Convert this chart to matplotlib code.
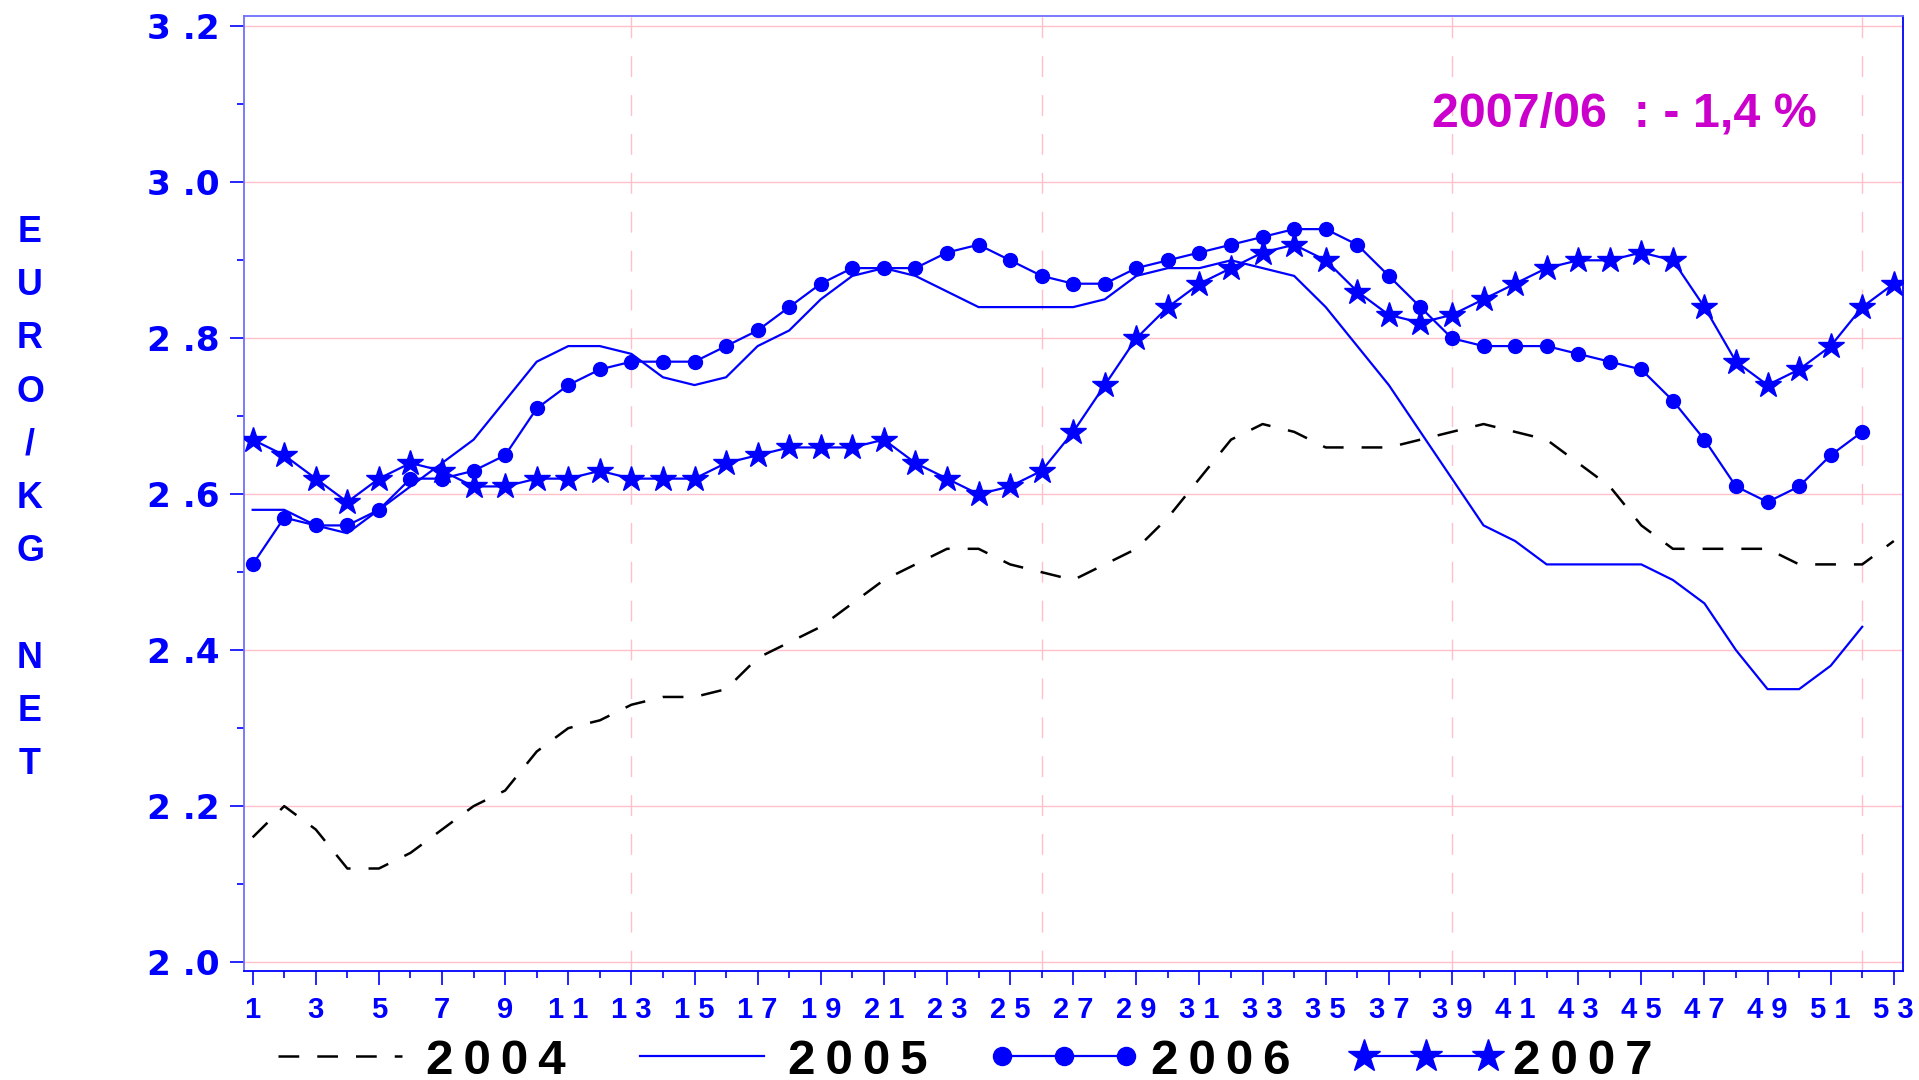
import numpy as np
import matplotlib.pyplot as plt
from matplotlib.ticker import MultipleLocator


weeks = np.arange(1, 54)

p2004 = [2.16, 2.20, 2.17, 2.12, 2.12, 2.14, 2.17, 2.20, 2.22, 2.27,
         2.30, 2.31, 2.33, 2.34, 2.34, 2.35, 2.39, 2.41, 2.43, 2.46,
         2.49, 2.51, 2.53, 2.53, 2.51, 2.50, 2.49, 2.51, 2.53, 2.57,
         2.62, 2.67, 2.69, 2.68, 2.66, 2.66, 2.66, 2.67, 2.68, 2.69,
         2.68, 2.67, 2.64, 2.61, 2.56, 2.53, 2.53, 2.53, 2.53, 2.51,
         2.51, 2.51, 2.54]
p2005 = [2.58, 2.58, 2.56, 2.55, 2.58, 2.61, 2.64, 2.67, 2.72, 2.77,
         2.79, 2.79, 2.78, 2.75, 2.74, 2.75, 2.79, 2.81, 2.85, 2.88,
         2.89, 2.88, 2.86, 2.84, 2.84, 2.84, 2.84, 2.85, 2.88, 2.89,
         2.89, 2.90, 2.89, 2.88, 2.84, 2.79, 2.74, 2.68, 2.62, 2.56,
         2.54, 2.51, 2.51, 2.51, 2.51, 2.49, 2.46, 2.40, 2.35, 2.35,
         2.38, 2.43]
p2006 = [2.51, 2.57, 2.56, 2.56, 2.58, 2.62, 2.62, 2.63, 2.65, 2.71,
         2.74, 2.76, 2.77, 2.77, 2.77, 2.79, 2.81, 2.84, 2.87, 2.89,
         2.89, 2.89, 2.91, 2.92, 2.90, 2.88, 2.87, 2.87, 2.89, 2.90,
         2.91, 2.92, 2.93, 2.94, 2.94, 2.92, 2.88, 2.84, 2.80, 2.79,
         2.79, 2.79, 2.78, 2.77, 2.76, 2.72, 2.67, 2.61, 2.59, 2.61,
         2.65, 2.68]
p2007 = [2.67, 2.65, 2.62, 2.59, 2.62, 2.64, 2.63, 2.61, 2.61, 2.62,
         2.62, 2.63, 2.62, 2.62, 2.62, 2.64, 2.65, 2.66, 2.66, 2.66,
         2.67, 2.64, 2.62, 2.60, 2.61, 2.63, 2.68, 2.74, 2.80, 2.84,
         2.87, 2.89, 2.91, 2.92, 2.90, 2.86, 2.83, 2.82, 2.83, 2.85,
         2.87, 2.89, 2.90, 2.90, 2.91, 2.90, 2.84, 2.77, 2.74, 2.76,
         2.79, 2.84, 2.87]

yticks = [2.0, 2.2, 2.4, 2.6, 2.8, 3.0, 3.2]
ytick_labels = ['2 .0', '2 .2', '2 .4', '2 .6', '2 .8', '3 .0', '3 .2']
xtick_weeks = list(range(1, 54, 2))
xtick_labels = [' '.join(str(w)) for w in xtick_weeks]
quarter_weeks = [13, 26, 39, 52]
ylabel_letters = ['E', 'U', 'R', 'O', '/', 'K', 'G', '', 'N', 'E', 'T']
legend_labels = ['2\u20090\u20090\u20094', '2\u20090\u20090\u20095',
                 '2\u20090\u20090\u20096', '2\u20090\u20090\u20097']
note = '2007/06  : - 1,4 %'

blue = '#0000ff'
pink = '#ffc0cb'
arial = ['Liberation Sans', 'DejaVu Sans']

fig = plt.figure(figsize=(19.19, 10.8), dpi=100)
ax = fig.add_axes([0.1269, 0.1009, 0.8649, 0.8839])

for v in yticks:
    ax.axhline(v, color=pink, lw=1, zorder=0)
for w in quarter_weeks:
    ax.axvline(w, color=pink, lw=1, dashes=(15, 13), zorder=0)

l04, = ax.plot(weeks, p2004, color='black', lw=1.8, dashes=(8.3, 7.2), zorder=2)
l05, = ax.plot(weeks[:52], p2005, color=blue, lw=1.6, zorder=3)
l06, = ax.plot(weeks[:52], p2006, color=blue, lw=1.6, marker='o', ms=10, zorder=4)
l07, = ax.plot(weeks, p2007, color=blue, lw=1.6, marker='*', ms=19, zorder=5)

ax.set_xlim(0.71, 53.3)
ax.set_ylim(1.9885, 3.2128)

ax.set_xticks(xtick_weeks)
ax.set_xticklabels(xtick_labels, fontweight='bold', family=arial)
ax.set_xticks(range(2, 53, 2), minor=True)
ax.set_yticks(yticks)
ax.set_yticklabels(ytick_labels, fontweight='bold', family='DejaVu Sans')
ax.yaxis.set_minor_locator(MultipleLocator(0.1))

ax.tick_params(which='major', length=10, width=1.2, color=blue, direction='out')
ax.tick_params(which='minor', length=5, width=1.2, color=blue, direction='out')
ax.tick_params(axis='x', labelsize=21, labelcolor=blue, pad=8.3)
ax.tick_params(axis='y', labelsize=24.7, labelcolor=blue, pad=7)

ax.spines['left'].set_color('#6f6fff')
ax.spines['top'].set_color('#6f6fff')
ax.spines['bottom'].set_color(blue)
ax.spines['right'].set_color(blue)
for sp in ax.spines.values():
    sp.set_linewidth(1.3)

# vertical stacked axis title
for i, ch in enumerate(ylabel_letters):
    yc = 229 + i * 53.2
    fig.text(30 / 1919, 1 - (yc + 12.9) / 1080, ch, ha='center', va='baseline',
             color=blue, fontsize=25.8, fontweight='bold', family='Liberation Sans')

fig.text(0.8467, 1 - 127 / 1080, note, ha='center', va='baseline',
         color='#cc00cc', fontsize=34.8, fontweight='bold', family='Liberation Sans')

leg = fig.legend([l04, l05, l06, l07], legend_labels, loc='center',
                 bbox_to_anchor=(0.499, 0.0175), ncol=4, frameon=False,
                 numpoints=3, markerscale=1.3, handlelength=3.1,
                 handletextpad=0.2, columnspacing=1.2, borderpad=0,
                 prop={'family': arial, 'weight': 'bold', 'size': 35.6})

fig.savefig('out.png', dpi=100)
